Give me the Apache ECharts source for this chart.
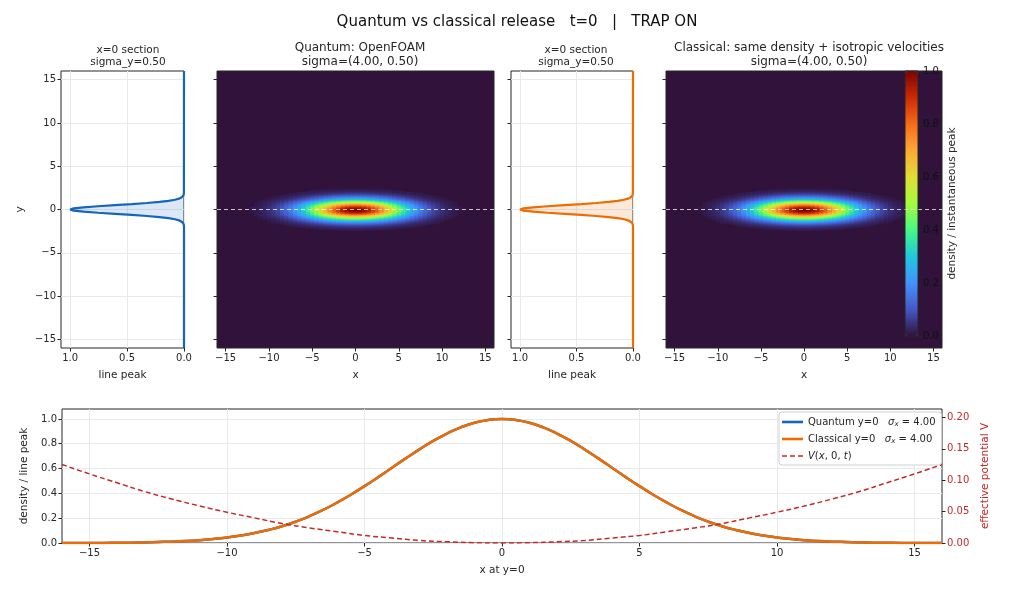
<!DOCTYPE html>
<html>
<head>
<meta charset="utf-8">
<script src="https://cdn.jsdelivr.net/npm/echarts@6/dist/echarts.min.js"></script>
<style>
  html, body { margin: 0; padding: 0; background: #fff; }
  #chart { width: 1024px; height: 590px; }
</style>
</head>
<body>
<div id="chart"></div>
<script>
// x positions of the y=0 cut (also the heatmap columns)
var lineX = [-16, -15.5, -15, -14.5, -14, -13.5, -13, -12.5, -12, -11.5, -11, -10.5, -10, -9.5, -9, -8.5,
  -8, -7.5, -7, -6.5, -6, -5.5, -5, -4.5, -4, -3.5, -3, -2.5, -2, -1.5, -1, -0.5, 0,
  0.5, 1, 1.5, 2, 2.5, 3, 3.5, 4, 4.5, 5, 5.5, 6, 6.5, 7, 7.5, 8,
  8.5, 9, 9.5, 10, 10.5, 11, 11.5, 12, 12.5, 13, 13.5, 14, 14.5, 15, 15.5, 16];
var quantumLine = [0.000, 0.001, 0.001, 0.001, 0.002, 0.003, 0.005, 0.008, 0.011, 0.016, 0.023, 0.032, 0.044, 0.060, 0.080, 0.105,
  0.135, 0.172, 0.216, 0.267, 0.325, 0.389, 0.458, 0.531, 0.607, 0.682, 0.755, 0.823, 0.882, 0.932, 0.969, 0.992, 1.000,
  0.992, 0.969, 0.932, 0.882, 0.823, 0.755, 0.682, 0.607, 0.531, 0.458, 0.389, 0.325, 0.267, 0.216, 0.172, 0.135,
  0.105, 0.080, 0.060, 0.044, 0.032, 0.023, 0.016, 0.011, 0.008, 0.005, 0.003, 0.002, 0.001, 0.001, 0.001, 0.000];
var classicalLine = [0.000, 0.001, 0.001, 0.001, 0.002, 0.003, 0.005, 0.008, 0.011, 0.016, 0.023, 0.032, 0.044, 0.060, 0.080, 0.105,
  0.135, 0.172, 0.216, 0.267, 0.325, 0.389, 0.458, 0.531, 0.607, 0.682, 0.755, 0.823, 0.882, 0.932, 0.969, 0.992, 1.000,
  0.992, 0.969, 0.932, 0.882, 0.823, 0.755, 0.682, 0.607, 0.531, 0.458, 0.389, 0.325, 0.267, 0.216, 0.172, 0.135,
  0.105, 0.080, 0.060, 0.044, 0.032, 0.023, 0.016, 0.011, 0.008, 0.005, 0.003, 0.002, 0.001, 0.001, 0.001, 0.000];

// trap potential along y=0
var potX = [-16, -15, -14, -13, -12, -11, -10, -9, -8, -7, -6, -5, -4, -3, -2, -1, 0,
  1, 2, 3, 4, 5, 6, 7, 8, 9, 10, 11, 12, 13, 14, 15, 16];
var potential = [0.125, 0.110, 0.096, 0.082, 0.070, 0.059, 0.049, 0.040, 0.031, 0.024, 0.018, 0.012, 0.008, 0.004, 0.002, 0.0005, 0,
  0.0005, 0.002, 0.004, 0.008, 0.012, 0.018, 0.024, 0.031, 0.040, 0.049, 0.059, 0.070, 0.082, 0.096, 0.110, 0.125];

// x=0 section line
var sectionY = [-16, -2, -1.875, -1.75, -1.625, -1.5, -1.375, -1.25, -1.125, -1, -0.875, -0.75, -0.625, -0.5, -0.375, -0.25, -0.125, 0,
  0.125, 0.25, 0.375, 0.5, 0.625, 0.75, 0.875, 1, 1.125, 1.25, 1.375, 1.5, 1.625, 1.75, 1.875, 2, 16];
var quantumSection = [0, 0.000, 0.001, 0.002, 0.005, 0.011, 0.023, 0.044, 0.080, 0.135, 0.216, 0.325, 0.458, 0.607, 0.755, 0.882, 0.969, 1.000,
  0.969, 0.882, 0.755, 0.607, 0.458, 0.325, 0.216, 0.135, 0.080, 0.044, 0.023, 0.011, 0.005, 0.002, 0.001, 0.000, 0];
var classicalSection = [0, 0.000, 0.001, 0.002, 0.005, 0.011, 0.023, 0.044, 0.080, 0.135, 0.216, 0.325, 0.458, 0.607, 0.755, 0.882, 0.969, 1.000,
  0.969, 0.882, 0.755, 0.607, 0.458, 0.325, 0.216, 0.135, 0.080, 0.044, 0.023, 0.011, 0.005, 0.002, 0.001, 0.000, 0];

// vertical profile of the density image at x=0 (as drawn, slightly smeared)
var heatRowY = [-2.5, -2.375, -2.25, -2.125, -2, -1.875, -1.75, -1.625, -1.5, -1.375, -1.25, -1.125, -1, -0.875, -0.75, -0.625,
  -0.5, -0.375, -0.25, -0.125, 0, 0.125, 0.25, 0.375, 0.5, 0.625, 0.75, 0.875, 1, 1.125, 1.25, 1.375, 1.5, 1.625, 1.75, 1.875,
  2, 2.125, 2.25, 2.375, 2.5];
var quantumRows = [0.008, 0.012, 0.019, 0.029, 0.044, 0.064, 0.091, 0.127, 0.172, 0.228, 0.295, 0.372, 0.458, 0.550, 0.644, 0.737,
  0.823, 0.896, 0.952, 0.988, 1.000, 0.988, 0.952, 0.896, 0.823, 0.737, 0.644, 0.550, 0.458, 0.372, 0.295, 0.228, 0.172, 0.127,
  0.091, 0.064, 0.044, 0.029, 0.019, 0.012, 0.008];
var classicalRows = [0.008, 0.012, 0.019, 0.029, 0.044, 0.064, 0.091, 0.127, 0.172, 0.228, 0.295, 0.372, 0.458, 0.550, 0.644, 0.737,
  0.823, 0.896, 0.952, 0.988, 1.000, 0.988, 0.952, 0.896, 0.823, 0.737, 0.644, 0.550, 0.458, 0.372, 0.295, 0.228, 0.172, 0.127,
  0.091, 0.064, 0.044, 0.029, 0.019, 0.012, 0.008];

var xTicks = [-15, -10, -5, 0, 5, 10, 15];
var yTicks = [-15, -10, -5, 0, 5, 10, 15];
var peakTicks = [0, 0.5, 1];
var densTicks = [0, 0.2, 0.4, 0.6, 0.8, 1.0];
var vTicks = [0, 0.05, 0.1, 0.15, 0.2];

var FONT = 'DejaVu Sans';
var INK = '#262626';
var BLUE = '#1565c0';
var ORANGE = '#ef6c00';
var RED = '#c62828';
var GRIDC = '#e6e9ee';
var turbo = ['#30123b', '#4458c6', '#4392fe', '#1fc8de', '#46f884', '#a4fc3c',
  '#e1dd37', '#fca935', '#f66b19', '#cb2a04', '#7a0403'];

function minus(v) { return String(v).replace('-', '\u2212'); }

function heatCells(xp, yp) {
  var out = [];
  for (var j = 0; j < heatRowY.length; j++) {
    for (var i = 0; i < lineX.length; i++) {
      var v = xp[i] * yp[j];
      if (v >= 0.01) out.push([lineX[i], heatRowY[j], v]);
    }
  }
  return out;
}

function cellItem(params, api) {
  var x = api.value(0), y = api.value(1);
  var a = api.coord([x - 0.25, y + 0.0625]);
  var b = api.coord([x + 0.25, y - 0.0625]);
  return {
    type: 'rect',
    shape: { x: a[0], y: a[1], width: b[0] - a[0] + 0.6, height: b[1] - a[1] + 0.6 },
    style: { fill: api.visual('color') }
  };
}

function fillItem(vals, color) {
  return function(params, api) {
    var pts = sectionY.map(function(y, i) { return api.coord([vals[i], y]); });
    pts.push(api.coord([0, sectionY[sectionY.length - 1]]));
    pts.push(api.coord([0, sectionY[0]]));
    return { type: 'polygon', shape: { points: pts }, style: { fill: color } };
  };
}

var tickStyle = { show: true, inside: false, length: 3.5, lineStyle: { color: INK } };
var labelStyle = { fontFamily: FONT, fontSize: 10, color: INK, margin: 5 };
var nameStyle = { fontFamily: FONT, fontSize: 10.5, color: INK };
var noLine = { show: false, onZero: false };

function frame(left, top, width, height, bg) {
  return { left: left, top: top, width: width, height: height, show: true,
    borderColor: INK, borderWidth: 1, backgroundColor: bg || 'transparent' };
}

function sectionX(idx) {
  return { gridIndex: idx, type: 'value', inverse: true, min: 0, max: 1.08,
    name: 'line peak', nameLocation: 'middle', nameGap: 22, nameTextStyle: nameStyle,
    axisLine: noLine, axisTick: Object.assign({ customValues: peakTicks }, tickStyle),
    axisLabel: Object.assign({ customValues: peakTicks, formatter: function(v) { return v.toFixed(1); } }, labelStyle),
    splitLine: { show: true, lineStyle: { color: GRIDC } } };
}
function heatX(idx) {
  return { gridIndex: idx, type: 'value', min: -16, max: 16,
    name: 'x', nameLocation: 'middle', nameGap: 22, nameTextStyle: nameStyle,
    axisLine: noLine, axisTick: Object.assign({ customValues: xTicks }, tickStyle),
    axisLabel: Object.assign({ customValues: xTicks, formatter: minus }, labelStyle),
    splitLine: { show: false } };
}
function panelY(idx, labels, grid) {
  var ax = { gridIndex: idx, type: 'value', min: -16, max: 16,
    axisLine: noLine, axisTick: Object.assign({ customValues: yTicks }, tickStyle),
    axisLabel: Object.assign({ show: labels, customValues: yTicks, formatter: minus }, labelStyle),
    splitLine: { show: grid, lineStyle: { color: GRIDC } } };
  if (labels) {
    ax.name = 'y'; ax.nameLocation = 'middle'; ax.nameGap = 35; ax.nameRotate = 90; ax.nameTextStyle = nameStyle;
  }
  return ax;
}

var lineIcon = 'path://M0,0H21V2.6H0Z';
var dashIcon = 'path://M0,0H5V1.6H0Z M8,0H13V1.6H8Z M16,0H21V1.6H16Z';

var option = {
  backgroundColor: '#ffffff',
  animation: false,
  title: [
    { text: 'Quantum vs classical release   t=0   |   TRAP ON', left: 512, top: 10, textAlign: 'center',
      textStyle: { fontFamily: FONT, fontSize: 15, fontWeight: 'normal', color: '#111' } },
    { text: 'x=0 section\nsigma_y=0.50', left: 123, top: 39, textAlign: 'center',
      textStyle: { fontFamily: FONT, fontSize: 10.5, fontWeight: 'normal', color: INK, lineHeight: 12 } },
    { text: 'Quantum: OpenFOAM\nsigma=(4.00, 0.50)', left: 355, top: 36, textAlign: 'center',
      textStyle: { fontFamily: FONT, fontSize: 12, fontWeight: 'normal', color: INK, lineHeight: 14 } },
    { text: 'x=0 section\nsigma_y=0.50', left: 571, top: 39, textAlign: 'center',
      textStyle: { fontFamily: FONT, fontSize: 10.5, fontWeight: 'normal', color: INK, lineHeight: 12 } },
    { text: 'Classical: same density + isotropic velocities\nsigma=(4.00, 0.50)', left: 804, top: 36, textAlign: 'center',
      textStyle: { fontFamily: FONT, fontSize: 12, fontWeight: 'normal', color: INK, lineHeight: 14 } }
  ],
  legend: {
    left: 779, top: 412, orient: 'vertical',
    data: [
      { name: 'Quantum y=0', icon: lineIcon },
      { name: 'Classical y=0', icon: lineIcon },
      { name: 'V(x, 0, t)', icon: dashIcon }
    ],
    itemWidth: 21, itemHeight: 12, itemGap: 6, padding: [5, 6, 4, 3],
    borderColor: '#d0d0d0', borderWidth: 1, borderRadius: 3, backgroundColor: 'rgba(255,255,255,0.85)',
    formatter: function(name) {
      if (name === 'V(x, 0, t)') return '{i|V}{n|(}{i|x}{n|, 0, }{i|t}{n|)}';
      return '{n|' + name + '   }{i|\u03c3}{s|x}{n| = 4.00}';
    },
    textStyle: {
      fontFamily: FONT, fontSize: 10, color: INK,
      rich: {
        n: { fontFamily: FONT, fontSize: 10, color: INK },
        i: { fontFamily: FONT, fontSize: 10, color: INK, fontStyle: 'italic' },
        s: { fontFamily: FONT, fontSize: 7, color: INK, fontStyle: 'italic', padding: [5, 0, 0, 0] }
      }
    }
  },
  visualMap: {
    type: 'continuous', seriesIndex: [2, 5], dimension: 2, min: 0, max: 1,
    calculable: false, text: null, showLabel: false, padding: 0,
    left: 905, top: 71, itemWidth: 13, itemHeight: 265, z: 5,
    inRange: { color: turbo }
  },
  grid: [
    frame(61, 71, 123, 277),
    frame(217, 71, 277, 277, '#30123b'),
    frame(511, 71, 122, 277),
    frame(666, 71, 276, 277, '#30123b'),
    Object.assign(frame(905, 71, 13, 265), { z: 10 }),
    frame(62, 409, 880, 134)
  ],
  xAxis: [
    sectionX(0),
    heatX(1),
    sectionX(2),
    heatX(3),
    { gridIndex: 4, type: 'value', min: 0, max: 1, show: false },
    { gridIndex: 5, type: 'value', min: -16, max: 16,
      name: 'x at y=0', nameLocation: 'middle', nameGap: 22, nameTextStyle: nameStyle,
      axisLine: noLine, axisTick: Object.assign({ customValues: xTicks }, tickStyle),
      axisLabel: Object.assign({ customValues: xTicks, formatter: minus }, labelStyle),
      splitLine: { show: true, lineStyle: { color: GRIDC } } }
  ],
  yAxis: [
    panelY(0, true, true),
    panelY(1, false, false),
    panelY(2, false, true),
    panelY(3, false, false),
    { gridIndex: 4, type: 'value', min: 0, max: 1, position: 'right', z: 12,
      name: 'density / instantaneous peak', nameLocation: 'middle', nameGap: 29, nameRotate: 90,
      nameTextStyle: nameStyle,
      axisLine: noLine, axisTick: Object.assign({ customValues: densTicks }, tickStyle),
      axisLabel: Object.assign({ customValues: densTicks, formatter: function(v) { return v.toFixed(1); } }, labelStyle, { color: '#111' }),
      splitLine: { show: false } },
    { gridIndex: 5, type: 'value', min: 0, max: 1.08, position: 'left',
      name: 'density / line peak', nameLocation: 'middle', nameGap: 31, nameRotate: 90, nameTextStyle: nameStyle,
      axisLine: noLine, axisTick: Object.assign({ customValues: densTicks }, tickStyle),
      axisLabel: Object.assign({ customValues: densTicks, formatter: function(v) { return v.toFixed(1); } }, labelStyle),
      splitLine: { show: true, lineStyle: { color: GRIDC } } },
    { gridIndex: 5, type: 'value', min: 0, max: 0.2134, position: 'right',
      name: 'effective potential V', nameLocation: 'middle', nameGap: 35, nameRotate: 90,
      nameTextStyle: { fontFamily: FONT, fontSize: 10.5, color: RED },
      axisLine: noLine, axisTick: Object.assign({ customValues: vTicks }, tickStyle),
      axisLabel: Object.assign({}, labelStyle, { customValues: vTicks, color: RED,
        formatter: function(v) { return v.toFixed(2); } }),
      splitLine: { show: false } }
  ],
  series: [
    { type: 'custom', name: 'qfill', xAxisIndex: 0, yAxisIndex: 0, data: [[0, 0]], silent: true,
      renderItem: fillItem(quantumSection, 'rgba(21,101,192,0.15)') },
    { type: 'line', name: 'qsection', xAxisIndex: 0, yAxisIndex: 0, symbol: 'none', silent: true,
      lineStyle: { color: BLUE, width: 2.2 },
      data: sectionY.map(function(y, i) { return [quantumSection[i], y]; }) },
    { type: 'custom', name: 'qheat', xAxisIndex: 1, yAxisIndex: 1, clip: true, silent: true,
      renderItem: cellItem, data: heatCells(quantumLine, quantumRows),
      markLine: { silent: true, symbol: 'none', label: { show: false },
        lineStyle: { color: 'rgba(255,255,255,0.75)', type: [4, 3], width: 1 },
        data: [{ yAxis: 0 }] } },
    { type: 'custom', name: 'cfill', xAxisIndex: 2, yAxisIndex: 2, data: [[0, 0]], silent: true,
      renderItem: fillItem(classicalSection, 'rgba(239,108,0,0.15)') },
    { type: 'line', name: 'csection', xAxisIndex: 2, yAxisIndex: 2, symbol: 'none', silent: true,
      lineStyle: { color: ORANGE, width: 2.2 },
      data: sectionY.map(function(y, i) { return [classicalSection[i], y]; }) },
    { type: 'custom', name: 'cheat', xAxisIndex: 3, yAxisIndex: 3, clip: true, silent: true,
      renderItem: cellItem, data: heatCells(classicalLine, classicalRows),
      markLine: { silent: true, symbol: 'none', label: { show: false },
        lineStyle: { color: 'rgba(255,255,255,0.75)', type: [4, 3], width: 1 },
        data: [{ yAxis: 0 }] } },
    { type: 'line', name: 'Quantum y=0', xAxisIndex: 5, yAxisIndex: 5, symbol: 'none', smooth: true,
      color: BLUE, lineStyle: { color: BLUE, width: 2.5 },
      data: lineX.map(function(x, i) { return [x, quantumLine[i]]; }) },
    { type: 'line', name: 'Classical y=0', xAxisIndex: 5, yAxisIndex: 5, symbol: 'none', smooth: true,
      color: ORANGE, lineStyle: { color: ORANGE, width: 2.5 },
      data: lineX.map(function(x, i) { return [x, classicalLine[i]]; }) },
    { type: 'line', name: 'V(x, 0, t)', xAxisIndex: 5, yAxisIndex: 6, symbol: 'none', smooth: true,
      color: RED, lineStyle: { color: RED, width: 1.5, type: [5, 3] },
      data: potX.map(function(x, i) { return [x, potential[i]]; }) }
  ]
};

echarts.init(document.getElementById('chart')).setOption(option);
</script>
</body>
</html>
